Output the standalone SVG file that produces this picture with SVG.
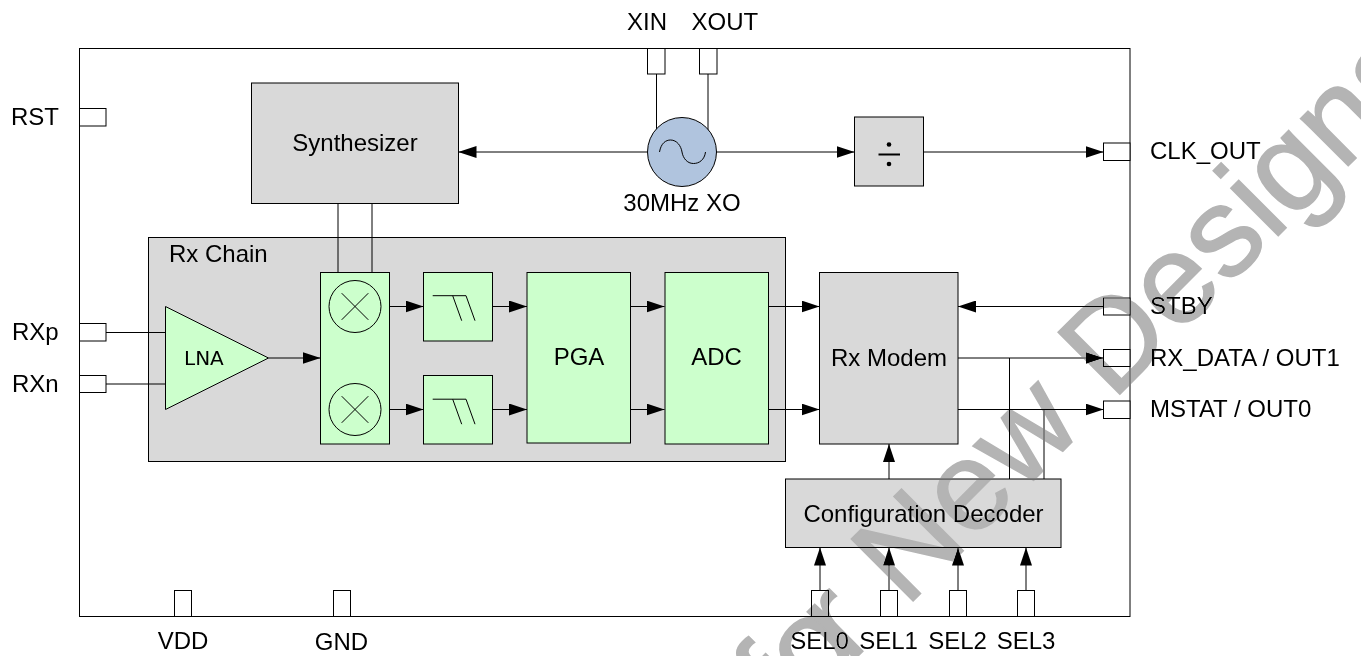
<svg xmlns="http://www.w3.org/2000/svg" width="1361" height="656" viewBox="0 0 1361 656">
<style>
text{font-family:"Liberation Sans",Arial,sans-serif;font-size:24px;fill:#000}
.m{text-anchor:middle}
.g{fill:#d9d9d9;stroke:#000;stroke-width:1}
.f{fill:#ccffcc;stroke:#000;stroke-width:1}
.p{fill:#fff;stroke:#000;stroke-width:1}
.l{fill:none;stroke:#000;stroke-width:1}
.a{marker-end:url(#ah)}
.wm{font-size:127px;word-spacing:3px;fill:#b4b4b4;stroke:#b4b4b4;stroke-width:1.5px;mix-blend-mode:darken}
</style>
<defs>
<marker id="ah" markerUnits="userSpaceOnUse" markerWidth="18" markerHeight="12" refX="18" refY="6" orient="auto"><path d="M0 0L18 6L0 12Z" fill="#000"/></marker>
</defs>
<rect width="1361" height="656" fill="#fff"/>
<g id="chip"><rect class="l" x="79.5" y="48.5" width="1050.5" height="568"/></g>
<g id="rx-chain"><rect class="g" x="148.5" y="237.5" width="637" height="224"/><text x="169" y="262">Rx Chain</text></g>
<g id="connectors">
<path class="l" d="M338 203.500V272M372 203.500V272"/>
<path class="l a" d="M647 152H458.500"/>
<path class="l" d="M656.500 74V132M708 74V132"/>
<path class="l a" d="M716.500 152H854.500"/>
<path class="l a" d="M923.500 152H1103.500"/>
<path class="l" d="M106 332.500H165.500M106 384H165.500"/>
<path class="l a" d="M268.500 358H320.500"/>
<path class="l a" d="M389.500 306.500H423.500"/>
<path class="l a" d="M389.500 409.500H423.500"/>
<path class="l a" d="M492.500 306.500H527"/>
<path class="l a" d="M492.500 409.500H527"/>
<path class="l a" d="M630.500 306.500H664.500"/>
<path class="l a" d="M630.500 409.500H664.500"/>
<path class="l a" d="M768.500 306.500H819.500"/>
<path class="l a" d="M768.500 409.500H819.500"/>
<path class="l a" d="M1103.500 306.500H958"/>
<path class="l a" d="M958 358H1103.500"/>
<path class="l a" d="M958 409.500H1103.500"/>
<path class="l" d="M1009.500 358V479M1044 409.500V479"/>
<path class="l a" d="M889 479V444"/>
<path class="l a" d="M820 590.500V547.500"/>
<path class="l a" d="M889 590.500V547.500"/>
<path class="l a" d="M958 590.500V547.500"/>
<path class="l a" d="M1026 590.500V547.500"/>
</g>
<g id="synthesizer"><rect class="g" x="251.500" y="83" width="207" height="120.500"/><text class="m" x="355" y="150.500">Synthesizer</text></g>
<g id="oscillator"><circle cx="682" cy="152" r="34.500" fill="#b0c4de" stroke="#000"/><path class="l" d="M659.500 152C661 143 666 140 670.500 140C677 140 681 146 682 152C683 158 687 163.500 693.500 163.500C699 163.500 704.500 160 705.500 152"/><text class="m" x="682" y="210.500">30MHz XO</text></g>
<g id="divider"><rect class="g" x="854.500" y="117" width="69" height="69"/><path d="M878.500 154.500H900" stroke="#000" stroke-width="2" fill="none"/><circle cx="889" cy="144.500" r="2.300"/><circle cx="889" cy="164" r="2.300"/></g>
<g id="lna"><path class="f" d="M165.500 306.500L268.500 358L165.500 409.500Z"/><text x="184" y="365" style="font-family:'DejaVu Sans';font-size:20px">LNA</text></g>
<g id="mixer"><rect class="f" x="320.500" y="272.500" width="69" height="171.500"/><circle class="l" cx="355" cy="306.500" r="26"/><circle class="l" cx="355" cy="409.500" r="26"/><path class="l" d="M341.700 293.200L368.300 319.800M368.300 293.200L341.700 319.800M341.700 396.200L368.300 422.800M368.300 396.200L341.700 422.800"/></g>
<g id="filter-i"><rect class="f" x="423.500" y="272.500" width="69" height="68.500"/><path class="l" d="M432.700 295.700H466L475 320.700M452.700 295.700L461.700 320.700"/></g>
<g id="filter-q"><rect class="f" x="423.500" y="375.500" width="69" height="68.500"/><path class="l" d="M432.700 399.200H466L475 424.200M452.700 399.200L461.700 424.200"/></g>
<g id="pga"><rect class="f" x="527" y="272.500" width="103.500" height="170.500"/><text class="m" x="579" y="365">PGA</text></g>
<g id="adc"><rect class="f" x="665" y="272.500" width="103.500" height="171.500"/><text class="m" x="716.500" y="365">ADC</text></g>
<g id="rx-modem"><rect class="g" x="819.500" y="272.500" width="138.500" height="171.500"/><text class="m" x="889" y="365.500">Rx Modem</text></g>
<g id="config-decoder"><rect class="g" x="785.500" y="479" width="275.500" height="68.500"/><text class="m" x="923.500" y="521.500">Configuration Decoder</text></g>
<g id="pin-rst"><rect class="p" x="79.500" y="108.500" width="26.500" height="17.500"/><text x="11" y="124.500">RST</text></g>
<g id="pin-rxp"><rect class="p" x="79.500" y="323.500" width="26.500" height="17.500"/><text x="12" y="339.500">RXp</text></g>
<g id="pin-rxn"><rect class="p" x="79.500" y="375.500" width="26.500" height="17"/><text x="12" y="391.500">RXn</text></g>
<g id="pin-xin"><rect class="p" x="647.500" y="48.500" width="17.500" height="25.500"/><text x="627" y="30">XIN</text></g>
<g id="pin-xout"><rect class="p" x="699.500" y="48.500" width="17.500" height="25.500"/><text x="691.500" y="30">XOUT</text></g>
<g id="pin-clk"><rect class="p" x="1103.500" y="143" width="26.500" height="17.500"/><text x="1150" y="158.500">CLK_OUT</text></g>
<g id="pin-stby"><rect class="p" x="1103.500" y="298" width="26.500" height="17"/><text x="1150" y="313.500">STBY</text></g>
<g id="pin-rxdata"><rect class="p" x="1103.500" y="349.500" width="26.500" height="17"/><text x="1150" y="365.500">RX_DATA / OUT1</text></g>
<g id="pin-mstat"><rect class="p" x="1103.500" y="401" width="26.500" height="17.500"/><text x="1150" y="416.500">MSTAT / OUT0</text></g>
<g id="pin-vdd"><rect class="p" x="174.500" y="590.500" width="17" height="26"/><text class="m" x="183" y="649">VDD</text></g>
<g id="pin-gnd"><rect class="p" x="333.500" y="590.500" width="17" height="26"/><text class="m" x="341.500" y="650">GND</text></g>
<g id="pin-sel0"><rect class="p" x="811.500" y="590.500" width="17" height="26"/><text class="m" x="819.500" y="649">SEL0</text></g>
<g id="pin-sel1"><rect class="p" x="880.500" y="590.500" width="17" height="26"/><text class="m" x="888.500" y="649">SEL1</text></g>
<g id="pin-sel2"><rect class="p" x="949.500" y="590.500" width="17" height="26"/><text class="m" x="957.500" y="649">SEL2</text></g>
<g id="pin-sel3"><rect class="p" x="1017.500" y="590.500" width="17" height="26"/><text class="m" x="1026" y="649">SEL3</text></g>
<text class="wm" transform="translate(788 726) rotate(-45)">fo<tspan dx="-20">r New Designs</tspan></text>
</svg>
